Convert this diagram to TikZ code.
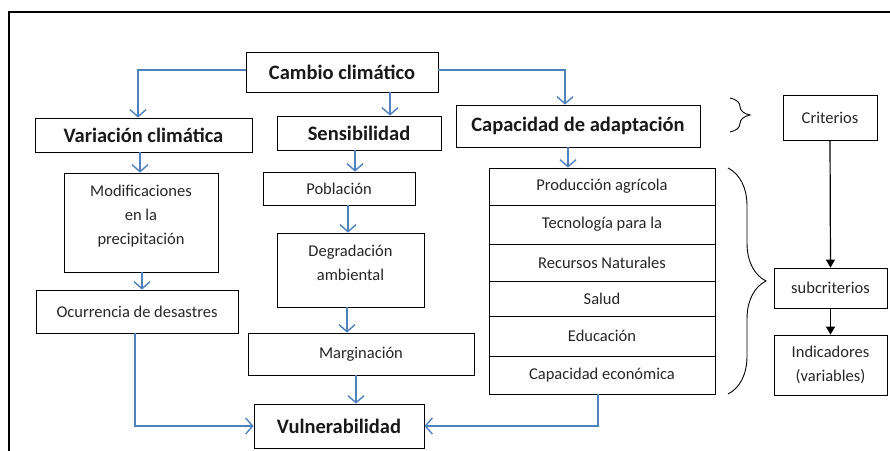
\documentclass[tikz,border=0pt]{standalone}
\usepackage{fontspec}
\setmainfont{Carlito}
\usetikzlibrary{calc}
\usetikzlibrary{arrows.meta}
\usetikzlibrary{decorations.pathreplacing}
\definecolor{azul}{RGB}{79,129,189}
\definecolor{texto}{RGB}{38,38,38}
\tikzset{
  caja/.style={draw=black, line width=0.8pt, inner sep=0pt, align=center, text=texto, font=\fontsize{16.5}{24}\selectfont},
  titulo/.style={text=black!90, font=\bfseries\fontsize{20.5}{24}\selectfont},
  flecha/.style={draw=azul, line width=1.4pt, -{Straight Barb[length=7pt,width=16pt]}},
  negra/.style={draw=black, line width=1.2pt, -{Triangle[length=8pt,width=9pt]}},
  llave/.style={draw=black, line width=0.9pt, decorate}
}
% box from (x1,y1) to (x2,y2)
\newcommand{\caja}[7][]{\node[caja,#1, minimum width={(#5-#3)*1pt}, minimum height={(#6-#4)*1pt}] (#2) at ({(#3+#5)/2},{(#4+#6)/2}) {#7};}

\begin{document}
\begin{tikzpicture}[x=1pt,y=-1pt]
        \useasboundingbox (0,0) rectangle (890,450);
        %frame
        \draw[line width=2.5pt] (9,452) -- (9,12) -- (892,12);

        %titles
        \caja[titulo]{cambio}{246}{52}{438}{92}{Cambio climático}
        \caja[titulo]{varia}{35}{118}{252}{152}{Variación climática}
        \caja[titulo]{sensi}{277}{116}{441}{150}{Sensibilidad}
        \caja[titulo]{capac}{456}{105}{700}{147}{Capacidad de adaptación}
        \caja[titulo]{vulner}{254}{404}{424}{448}{Vulnerabilidad}

        %left column
        \caja{modif}{64}{173}{218}{272}{Modificaciones\\en la\\precipitación\\[-8pt]}
        \caja{ocurr}{36}{290}{238}{333}{Ocurrencia de desastres}

        %middle column
        \caja{pobla}{263}{172}{415}{205}{Población}
        \caja{degra}{277}{233}{424}{307}{Degradación\\ambiental\\[-10pt]}
        \caja{margi}{248}{333}{474}{375}{Marginación}

        %stack
        \caja{r1}{489}{168}{715}{205}{Producción agrícola}
        \caja{r2}{489}{205}{715}{244}{Tecnología para la}
        \caja{r3}{489}{244}{715}{281}{Recursos Naturales}
        \caja{r4}{489}{281}{715}{316}{Salud}
        \caja{r5}{489}{316}{715}{356}{Educación}
        \caja{r6}{489}{356}{715}{394}{Capacidad económica}

        %legend
        \caja{crit}{783}{95}{877}{140}{Criterios}
        \caja{subcr}{774}{268}{887}{308}{subcriterios}
        \caja{indic}{774}{335}{887}{395}{Indicadores\\(variables)}

        %blue arrows
        \draw[flecha] (cambio.west |- 0,70) -| (varia.north -| 138,0);
        \draw[flecha] (cambio.south -| 390,0) -- (sensi.north -| 390,0);
        \draw[flecha] (cambio.east |- 0,70) -| (capac.north -| 565,0);
        \draw[flecha] (varia.south -| 140,0) -- (modif.north -| 140,0);
        \draw[flecha] (modif.south -| 142,0) -- (ocurr.north -| 142,0);
        \draw[flecha] (sensi.south -| 355,0) -- (pobla.north -| 355,0);
        \draw[flecha] (pobla.south -| 348,0) -- (degra.north -| 348,0);
        \draw[flecha] (degra.south -| 347,0) -- (margi.north -| 347,0);
        \draw[flecha] (margi.south -| 356,0) -- (vulner.north -| 356,0);
        \draw[flecha] (capac.south -| 568,0) -- (r1.north -| 568,0);
        \draw[flecha] (ocurr.south -| 135,0) |- (vulner.west);
        \draw[flecha] (r6.south -| 598,0) |- (vulner.east);

        %black arrows
        \draw[negra] (crit.south) -- (subcr.north);
        \draw[negra] (subcr.south) -- (indic.north);

        %braces
        \draw[llave, decoration={brace,amplitude=20pt}] (730,98) -- (730,132);
        \draw[llave, decoration={brace,amplitude=38pt}] (728,168) -- (728,394);
\end{tikzpicture}
\end{document}
